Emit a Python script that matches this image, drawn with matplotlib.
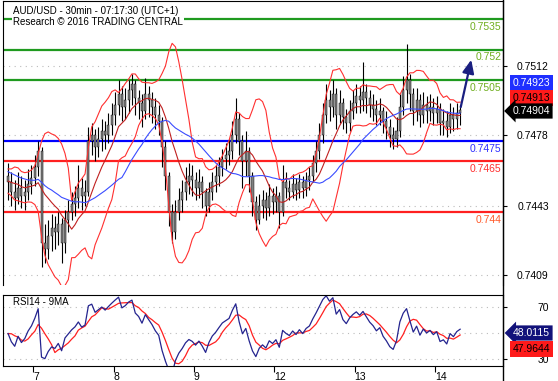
import matplotlib.pyplot as plt
import numpy as np
import pandas as pd

plt.rcParams['font.family'] = ['Liberation Sans', 'DejaVu Sans']

# prices in pips (1 pip = 0.0001)
hist_close = [7466, 7470, 7468, 7472, 7465, 7462, 7466, 7460, 7463, 7458, 7461, 7464, 7459,
              7455, 7460, 7462, 7457, 7452, 7456, 7460, 7455, 7450, 7453, 7457, 7458]
first_open = 7458
close = [7455, 7450, 7447, 7452, 7448, 7450, 7454, 7457, 7462, 7470, 7425, 7422, 7428, 7432,
         7430, 7434, 7425, 7436, 7440, 7444, 7447, 7452, 7448, 7450, 7475, 7478, 7472, 7476,
         7480, 7478, 7483, 7488, 7493, 7498, 7492, 7495, 7500, 7503, 7496, 7494, 7490, 7498,
         7495, 7492, 7488, 7485, 7472, 7458, 7440, 7430, 7440, 7446, 7450, 7455, 7458, 7456,
         7452, 7455, 7450, 7443, 7450, 7455, 7458, 7462, 7466, 7468, 7470, 7478, 7486, 7475,
         7465, 7470, 7458, 7445, 7436, 7443, 7446, 7442, 7448, 7445, 7448, 7440, 7455, 7452,
         7450, 7454, 7451, 7455, 7452, 7456, 7458, 7464, 7470, 7478, 7488, 7495, 7492, 7498,
         7488, 7494, 7487, 7484, 7490, 7494, 7497, 7495, 7499, 7496, 7493, 7491, 7488, 7490,
         7485, 7482, 7478, 7476, 7480, 7492, 7500, 7505, 7498, 7490, 7495, 7488, 7493, 7490,
         7492, 7489, 7491, 7484, 7485, 7482, 7488, 7486, 7489, 7490.4]
high = [7464, 7460, 7456, 7460, 7458, 7456, 7461, 7463, 7468, 7475, 7472, 7434, 7436, 7439,
        7438, 7440, 7437, 7441, 7446, 7450, 7453, 7463, 7457, 7456, 7482, 7484, 7481, 7482,
        7486, 7485, 7489, 7494, 7499, 7505, 7502, 7501, 7505, 7508, 7505, 7500, 7498, 7506,
        7502, 7499, 7496, 7493, 7487, 7475, 7460, 7444, 7446, 7452, 7456, 7462, 7464, 7463,
        7460, 7461, 7458, 7452, 7455, 7460, 7463, 7467, 7471, 7474, 7476, 7485, 7496, 7489,
        7478, 7480, 7472, 7460, 7448, 7449, 7451, 7450, 7454, 7452, 7453, 7450, 7463, 7460,
        7456, 7459, 7457, 7459, 7458, 7460, 7462, 7468, 7475, 7484, 7494, 7503, 7500, 7505,
        7501, 7500, 7496, 7491, 7495, 7500, 7503, 7502, 7514, 7503, 7500, 7498, 7495, 7496,
        7492, 7490, 7486, 7482, 7487, 7498, 7507, 7523, 7508, 7501, 7501, 7498, 7499, 7497,
        7498, 7496, 7497, 7494, 7491, 7490, 7494, 7492, 7494, 7493]
low = [7446, 7443, 7441, 7444, 7442, 7441, 7446, 7449, 7453, 7458, 7413, 7415, 7417, 7421,
       7422, 7424, 7415, 7420, 7430, 7436, 7438, 7442, 7441, 7443, 7448, 7468, 7465, 7467,
       7470, 7471, 7474, 7478, 7483, 7488, 7485, 7486, 7489, 7493, 7488, 7486, 7482, 7486,
       7487, 7484, 7481, 7478, 7462, 7451, 7433, 7425, 7427, 7436, 7440, 7446, 7449, 7448,
       7446, 7447, 7442, 7438, 7440, 7446, 7450, 7453, 7458, 7461, 7463, 7466, 7474, 7468,
       7452, 7458, 7450, 7438, 7431, 7434, 7437, 7436, 7438, 7439, 7440, 7432, 7438, 7447,
       7446, 7447, 7446, 7447, 7447, 7448, 7451, 7455, 7460, 7466, 7474, 7484, 7485, 7487,
       7481, 7484, 7481, 7479, 7480, 7486, 7489, 7489, 7490, 7489, 7487, 7485, 7483, 7483,
       7479, 7476, 7472, 7471, 7472, 7477, 7488, 7494, 7490, 7483, 7485, 7482, 7484, 7484,
       7485, 7483, 7484, 7478, 7478, 7477, 7479, 7480, 7481, 7483]

day_labels = ['7', '8', '9', '12', '13', '14']
day_start = [8, 32, 56, 80, 104, 128]

levels = [0.7535, 0.7520, 0.7505, 0.7475, 0.7465, 0.7440]
level_text = ['0.7535', '0.752', '0.7505', '0.7475', '0.7465', '0.744']
level_color = ['#1f9a1f', '#1f9a1f', '#1f9a1f', '#0000ff', '#ff2020', '#ff2020']
level_txtcol = ['#6fae1f', '#6fae1f', '#6fae1f', '#3030ff', '#ff3030', '#ff5a2a']
price_ticks = [0.7512, 0.7478, 0.7443, 0.7409]
target = 0.75164

c = np.array(close) / 1e4
h = np.array(high) / 1e4
l = np.array(low) / 1e4
o = np.r_[first_open / 1e4, c[:-1]]
n = len(c)
x = np.arange(n)

full = pd.Series(np.r_[np.array(hist_close) / 1e4, c])
k = len(hist_close)
mid = full.rolling(10, min_periods=1).mean()
sd = full.rolling(10, min_periods=2).std()
up = (mid + 2 * sd).values[k:]
dn = (mid - 2 * sd).values[k:]
mid = mid.values[k:]
ma = full.rolling(25, min_periods=1).mean().values[k:]

d = full.diff()
g = d.clip(lower=0).ewm(alpha=1 / 10, adjust=False).mean()
ls = (-d.clip(upper=0)).ewm(alpha=1 / 10, adjust=False).mean()
rsi = (100 - 100 / (1 + g / ls))
rsi_ma = rsi.rolling(5).mean().values[k:]
rsi = rsi.values[k:]

W, H = 558, 381
fig = plt.figure(figsize=(W / 100, H / 100), dpi=100)
ax = fig.add_axes([3 / W, 1 - 285 / H, 500 / W, 284 / H])
ax2 = fig.add_axes([3 / W, 1 - 366 / H, 500 / W, 71 / H])

xlim = (-1.5, 147.8)
ax.set_xlim(*xlim)
ax.set_ylim(0.74041, 0.75440)

for p in price_ticks:
    ax.axhline(p, color='#bbbbbb', lw=0.8, ls=(0, (1, 4)), zorder=0)
for lv, lc in zip(levels, level_color):
    ax.axhline(lv, color=lc, lw=1.6, zorder=1)

# candles
ax.vlines(x, l, h, color='black', lw=0.8, zorder=3)
bot = np.minimum(o, c)
ht = np.maximum(np.abs(c - o), 0.00002)
ax.bar(x, ht, bottom=bot, width=0.6, color='#808080', edgecolor='black', lw=0.3, zorder=4)

ax.plot(x, up, color='#ff3030', lw=0.8, zorder=5)
ax.plot(x, dn, color='#ff3030', lw=0.8, zorder=5)
ax.plot(x, mid, color='#c02020', lw=0.8, zorder=5)
ax.plot(x, ma, color='#3a4cff', lw=0.8, zorder=5)

for lv, t, tc in zip(levels, level_text, level_txtcol):
    ax.annotate(t, xy=(1, lv), xycoords=('axes fraction', 'data'), xytext=(-1, -2),
                textcoords='offset points', ha='right', va='top', color=tc, fontsize=7.5)

ax.annotate('', xy=(138.5, target), xytext=(x[-1], c[-1]),
            arrowprops=dict(arrowstyle='-|>,head_length=0.8,head_width=0.35',
                            color='#1a1f80', lw=1.6), zorder=6)

ax.text(1.5, 0.75415, 'AUD/USD - 30min - 07:17:30 (UTC+1)\nResearch \u00a9 2016 TRADING CENTRAL',
        fontsize=7, va='top', ha='left', linespacing=1.15,
        bbox=dict(facecolor='white', edgecolor='none', pad=0.5), zorder=7)

ax.yaxis.tick_right()
ax.set_yticks(price_ticks)
ax.set_yticklabels([f'{p:.4f}' for p in price_ticks])
ax.tick_params(axis='y', direction='out', length=3, pad=30, labelsize=7.5)
for lab in ax.get_yticklabels():
    lab.set_horizontalalignment('right')
ax.set_xticks([])
ax.spines['bottom'].set_visible(False)

# RSI panel
ax2.set_xlim(*xlim)
ax2.set_ylim(24.6, 79.2)
for lv in [70, 50, 30]:
    ax2.axhline(lv, color='#bbbbbb', lw=0.8, ls=(0, (1, 4)), zorder=0)
ax2.plot(x, rsi_ma, color='#ff2020', lw=0.9)
ax2.plot(x, rsi, color='#24248f', lw=0.9)
ax2.text(1.5, 77.5, 'RSI14 - 9MA', fontsize=7, va='top', ha='left')
ax2.yaxis.tick_right()
ax2.set_yticks([70, 30])
ax2.tick_params(axis='y', direction='out', length=3, pad=30, labelsize=7.5)
for lab in ax2.get_yticklabels():
    lab.set_horizontalalignment('right')
ax2.set_xticks(np.array(day_start) - 0.5)
ax2.set_xticklabels(day_labels)
ax2.tick_params(axis='x', direction='out', length=4, pad=0, labelsize=7.5)
for lab in ax2.get_xticklabels():
    lab.set_horizontalalignment('left')

# right axis line through the whole figure
fig.add_artist(plt.Line2D([503 / W, 503 / W], [0, 1], color='black', lw=1, transform=fig.transFigure))


def tag(ypix, text, fc, tc, style='square,pad=0.25'):
    fig.text(550 / W, 1 - ypix / H, text, ha='right', va='center', fontsize=7.5, color=tc,
             bbox=dict(boxstyle=style, fc=fc, ec='none'))


tag(83, '0.74923', '#1f2fff', 'white')
tag(98, '0.74913', '#ff1a1a', 'black')
tag(111, '0.74904', 'black', 'white', 'larrow,pad=0.25')
tag(333, '48.0115', '#12127a', 'white', 'larrow,pad=0.25')
tag(349, '47.9644', '#ff1a1a', 'black')

fig.savefig('out.png', dpi=100)
